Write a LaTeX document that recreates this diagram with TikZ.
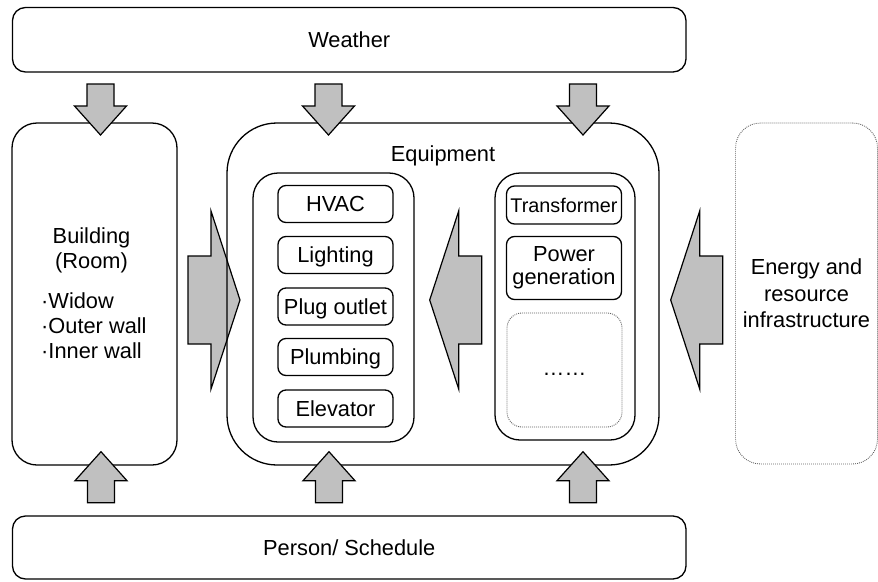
\documentclass[tikz,border=0pt]{standalone}
\usepackage{fontspec}
\setmainfont{Liberation Sans}
\usepackage{xcolor}
\usepackage{tikz}

\definecolor{arrgray}{HTML}{C0C0C0}
\definecolor{dotgray}{HTML}{606060}

% block arrow shapes, pointing along +x, tail at the origin
\newcommand{\bigarrpath}{(0,-44) -- (23,-44) -- (23,-89) -- (52,0) -- (23,89) -- (23,44) -- (0,44) -- cycle}
\newcommand{\smallarrpath}{(0,-13.5) -- (22,-13.5) -- (22,-26) -- (51,0) -- (22,26) -- (22,13.5) -- (0,13.5) -- cycle}

\begin{document}
\begin{tikzpicture}[x=1pt, y=-1pt,
  every node/.style={font=\fontsize{21.8}{25}\selectfont},
  box/.style={draw, line width=1.3pt, rounded corners=#1, inner sep=0pt},
  box/.default=13pt,
  dotbox/.style={draw=dotgray, line width=0.9pt, dash pattern=on 0.9pt off 1.1pt, rounded corners=#1, inner sep=0pt},
  dotbox/.default=25pt,
  item/.style={box=8pt, minimum width=115, minimum height=37, text height=20.4pt, text depth=4.8pt},
  blockarr/.style={fill=arrgray, line width=1.2pt, line join=miter}]
  \useasboundingbox (0,0) rectangle (878,581);

  % Side arrows (drawn first, boxes go over them)
  \filldraw[blockarr, shift={(188,300)}] \bigarrpath;
  \filldraw[blockarr, shift={(481.7,300)}, rotate=180] \bigarrpath;
  \filldraw[blockarr, shift={(722.7,300)}, rotate=180] \bigarrpath;

  % Weather and schedule bands
  \node[box, minimum width=673.5, minimum height=64.5] (weather) at (349.25,39.75) {Weather};
  \node[box, minimum width=673.5, minimum height=63] (person) at (349.25,547.5) {Person/ Schedule};

  % Building
  \node[box=25pt, minimum width=165, minimum height=342] (building) at (94.5,294) {};
  \node[align=center, inner sep=0pt] (bldtitle) at (91.5,250) {Building\\(Room)};
  \node[align=left, anchor=west, inner sep=0pt] (bldlist) at (41,326) {·Widow\\·Outer wall\\·Inner wall};

  % Equipment
  \node[box=50pt, minimum width=432, minimum height=342] (equip) at (443,294) {};
  \node[inner sep=0pt] (equiplabel) at (443,156) {Equipment};

  % Loads
  \node[box=25pt, minimum width=161, minimum height=269] (loads) at (333.5,307.5) {};
  \node[item] (hvac) at (335.5,204) {HVAC};
  \node[item] (light) at (335.5,255) {Lighting};
  \node[item] (plug) at (335.5,306.5) {Plug outlet};
  \node[item] (plumb) at (335.5,357) {Plumbing};
  \node[item] (elev) at (335.5,408.5) {Elevator};

  % Supply side
  \node[box=25pt, minimum width=140, minimum height=267] (supply) at (565,306.5) {};
  \node[item, minimum height=38, font=\fontsize{19.8}{25}\selectfont] (trans) at (564,205) {Transformer};
  \node[box=8pt, minimum width=115, minimum height=63, align=center,
        font=\fontsize{21.8}{23.5}\selectfont] (powgen) at (564,268) {Power\\generation};
  \node[dotbox=15pt, minimum width=115, minimum height=114] (others) at (564.5,370) {\strut……};

  % Infrastructure
  \node[dotbox, minimum width=142, minimum height=341, align=center,
        font=\fontsize{21.8}{26.5}\selectfont] (energy) at (806.5,293.5) {Energy and\\resource\\infrastructure};

  % Weather -> down, schedule -> up
  \foreach \ax in {100.5,328.5,583}
    \filldraw[blockarr, shift={(\ax,84)}, rotate=-90] \smallarrpath;
  \foreach \ax in {101,329,583}
    \filldraw[blockarr, shift={(\ax,502.7)}, rotate=90] \smallarrpath;
\end{tikzpicture}
\end{document}
